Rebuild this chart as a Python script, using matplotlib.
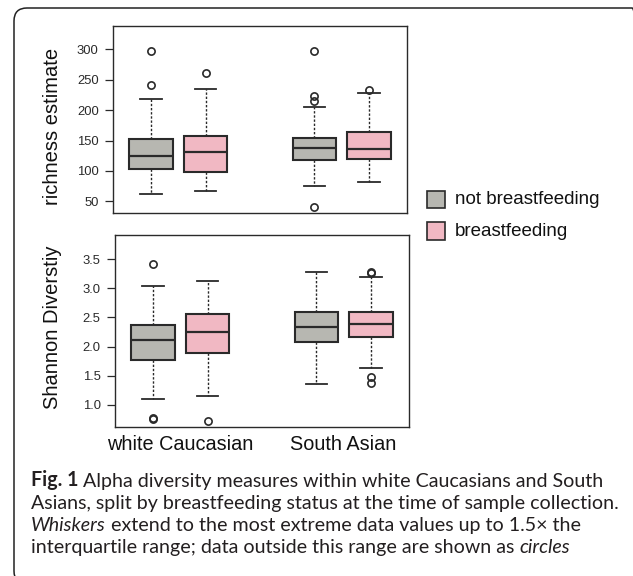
import matplotlib
matplotlib.use("Agg")
import matplotlib.pyplot as plt
from matplotlib.patches import Rectangle, FancyBboxPatch

# ---------------- data ----------------
groups = ["white Caucasian", "South Asian"]
status = ["not breastfeeding", "breastfeeding"]

rich_lo = [62.5, 67.5, 75.6, 81.8]
rich_q1 = [102.6, 98.0, 118.0, 120.0]
rich_med = [125.0, 131.6, 138.0, 136.5]
rich_q3 = [152.0, 158.0, 154.6, 163.5]
rich_hi = [218.0, 235.0, 205.6, 228.7]
rich_out = [[297.7, 241.0], [260.5], [297.0, 223.7, 215.0, 41.0], [233.0]]

sh_lo = [1.092, 1.154, 1.355, 1.63]
sh_q1 = [1.768, 1.893, 2.072, 2.163]
sh_med = [2.107, 2.244, 2.330, 2.382]
sh_q3 = [2.365, 2.559, 2.599, 2.588]
sh_hi = [3.035, 3.127, 3.276, 3.20]
sh_out = [[3.414, 0.77, 0.76], [0.724], [], [3.28, 3.26, 1.47, 1.38]]

rich_ticks = [50, 100, 150, 200, 250, 300]
sh_ticks = [1.0, 1.5, 2.0, 2.5, 3.0, 3.5]

caption_lines = [
    [("Fig. 1", "normal", "bold"), (" Alpha diversity measures within white Caucasians and South", "normal", "normal")],
    [("Asians, split by breastfeeding status at the time of sample collection.", "normal", "normal")],
    [("Whiskers", "italic", "normal"), (" extend to the most extreme data values up to 1.5\u00d7 the", "normal", "normal")],
    [("interquartile range; data outside this range are shown as ", "normal", "normal"), ("circles", "italic", "normal")],
]

# ---------------- style ----------------
W, H, DPI = 633, 576, 100
fig = plt.figure(figsize=(W / DPI, H / DPI), dpi=DPI)
plt.rcParams['font.family'] = ['Liberation Sans', 'DejaVu Sans']

GRAY = "#b7b7b1"
PINK = "#f1b8c3"
EDGE = "#2a2a2a"
colors = [GRAY, PINK, GRAY, PINK]
positions = [1, 2, 4, 5]


def fx(px):
    return px / W


def fy(py):
    return 1 - py / H


def make_axes(x0, y0, x1, y1):
    return fig.add_axes([fx(x0), fy(y1), fx(x1) - fx(x0), fy(y0) - fy(y1)])


def draw_box(ax, lo, q1, med, q3, hi, out, ylim, ticks, fmt):
    stats = []
    for i in range(len(lo)):
        stats.append(dict(whislo=lo[i], q1=q1[i], med=med[i], q3=q3[i],
                          whishi=hi[i], fliers=out[i]))
    bp = ax.bxp(stats, positions=positions, widths=0.8, patch_artist=True,
                showfliers=True,
                boxprops=dict(edgecolor=EDGE, linewidth=1.5),
                medianprops=dict(color=EDGE, linewidth=1.6),
                whiskerprops=dict(color=EDGE, linewidth=1.0, linestyle=(0, (1.7, 1.3))),
                capprops=dict(color=EDGE, linewidth=1.3),
                flierprops=dict(marker='o', markersize=5.2, markerfacecolor='none',
                                markeredgecolor=EDGE, markeredgewidth=1.2))
    for patch, c in zip(bp['boxes'], colors):
        patch.set_facecolor(c)
    ax.set_xlim(0.3, 5.7)
    ax.set_ylim(*ylim)
    ax.set_yticks(ticks)
    ax.set_yticklabels([fmt.format(t) for t in ticks])
    ax.tick_params(axis='y', direction='out', length=5.8, width=0.9, pad=4.5,
                   labelsize=9.4, colors=EDGE)
    for s in ax.spines.values():
        s.set_linewidth(1.0)
        s.set_color(EDGE)
    return bp


ax1 = make_axes(113, 26, 407, 213)
draw_box(ax1, rich_lo, rich_q1, rich_med, rich_q3, rich_hi, rich_out,
         (31, 338), rich_ticks, "{:d}")
ax1.set_xticks([])

ax2 = make_axes(115, 235, 409, 427)
draw_box(ax2, sh_lo, sh_q1, sh_med, sh_q3, sh_hi, sh_out,
         (0.616, 3.918), sh_ticks, "{:.1f}")
ax2.set_xticks([1.5, 4.5])
ax2.set_xticklabels(groups)
ax2.tick_params(axis='x', length=0, pad=6, labelsize=14.3, labelcolor="#111111")

# y labels
fig.text(fx(53), fy(126.5), "richness estimate", rotation=90, ha='center', va='center',
         fontsize=14.5, color="#111111")
fig.text(fx(53), fy(327), "Shannon Diverstiy", rotation=90, ha='center', va='center',
         fontsize=14.5, color="#111111")

# legend
leg_y = [199.5, 231.0]
for lab, c, yc in zip(status, [GRAY, PINK], leg_y):
    fig.patches.append(Rectangle((fx(427), fy(yc + 8.7)), fx(17.5), fy(0) - fy(17.4),
                                 transform=fig.transFigure, facecolor=c,
                                 edgecolor=EDGE, linewidth=1.2))
    fig.text(fx(455), fy(yc), lab, ha='left', va='center', fontsize=13.5, color="#111111")

# border
fig.patches.append(FancyBboxPatch((14 / DPI, (H - 584) / DPI), (645 - 14) / DPI, (584 - 8) / DPI,
                                  boxstyle="round,pad=0,rounding_size=0.13",
                                  transform=fig.dpi_scale_trans, facecolor='none',
                                  edgecolor="#222222", linewidth=1.1))

# caption
renderer = fig.canvas.get_renderer()
CAP_FONT = 'Lato'
CAP_COLOR = "#231f20"


def text_width(s, size, style, weight):
    t1 = fig.text(0, 0, s + "|", fontsize=size, fontstyle=style, fontweight=weight, family=CAP_FONT)
    t2 = fig.text(0, 0, "|", fontsize=size, fontstyle=style, fontweight=weight, family=CAP_FONT)
    w = t1.get_window_extent(renderer).width - t2.get_window_extent(renderer).width
    t1.remove()
    t2.remove()
    return w


base = 10.0
w1 = sum(text_width(s, base, st, wt) for s, st, wt in caption_lines[0])
cap_size = base * 573.0 / w1

baselines = [486.5, 509.0, 531.0, 553.0]
for line, yb in zip(caption_lines, baselines):
    x = 31.0
    for s, st, wt in line:
        fig.text(fx(x), fy(yb), s, fontsize=cap_size, fontstyle=st, fontweight=wt,
                 family=CAP_FONT, ha='left', va='baseline', color=CAP_COLOR)
        x += text_width(s, cap_size, st, wt)

fig.savefig("out.png", dpi=DPI)
